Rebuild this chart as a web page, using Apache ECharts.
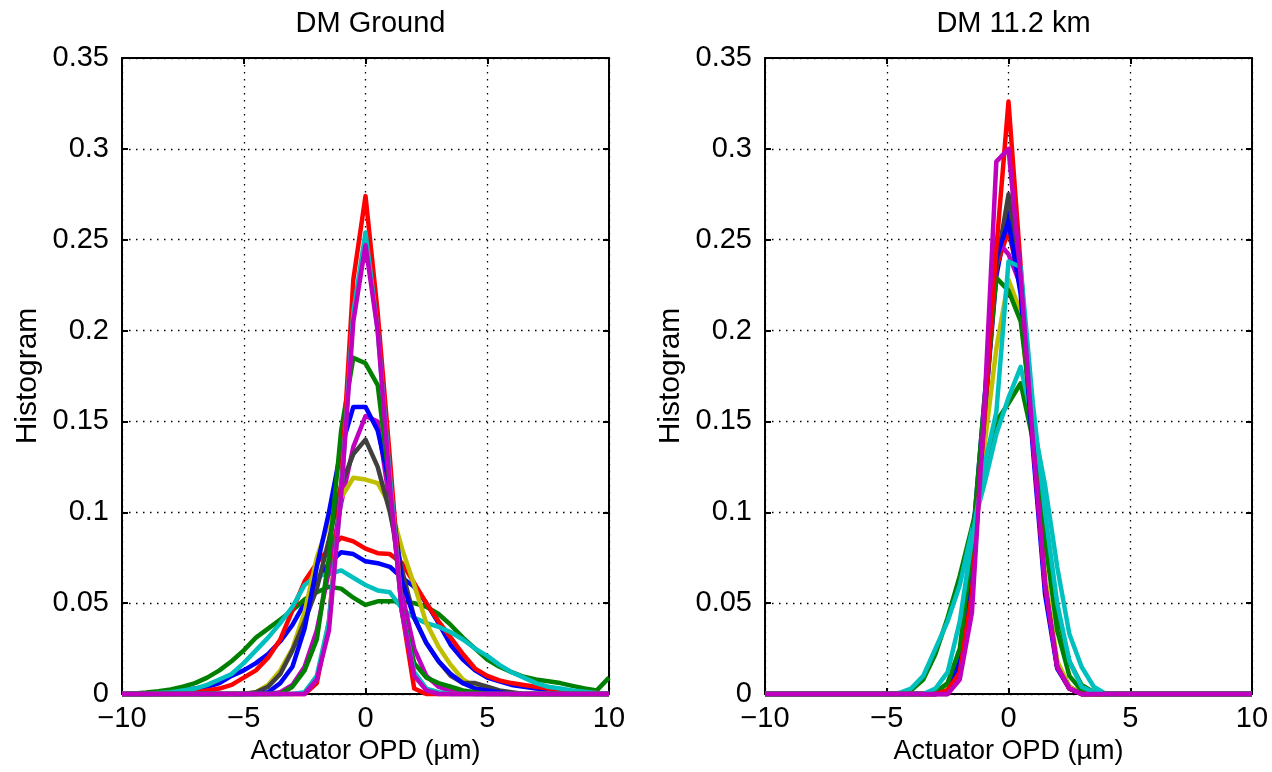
<!DOCTYPE html>
<html>
<head>
<meta charset="utf-8">
<script src="https://cdn.jsdelivr.net/npm/echarts@6/dist/echarts.min.js"></script>
<style>
html,body{margin:0;padding:0;background:#fff;}
#chart{width:1272px;height:772px;}
</style>
</head>
<body>
<div id="chart"></div>
<script>
// Bin centres (µm)
const xBins = [-10,-9.5,-9,-8.5,-8,-7.5,-7,-6.5,-6,-5.5,-5,-4.5,-4,-3.5,-3,-2.5,-2,-1.5,-1,-0.5,0,0.5,1,1.5,2,2.5,3,3.5,4,4.5,5,5.5,6,6.5,7,7.5,8,8.5,9,9.5,10];

const panelTitles = ['DM Ground', 'DM 11.2 km'];
const xTicks = [-10, -5, 0, 5, 10];
const yTicks = [0, 0.05, 0.1, 0.15, 0.2, 0.25, 0.3, 0.35];
const xLabel = 'Actuator OPD (µm)';
const yLabel = 'Histogram';

// MATLAB default colour order
const lineColors = ['#0000FF','#008000','#FF0000','#00BFBF','#BF00BF','#BFBF00','#404040','#0000FF','#008000','#FF0000','#00BFBF','#BF00BF'];

// ---- DM Ground ----
const g1 = [0,0,0,0.0003,0.001,0.002,0.003,0.004,0.006,0.010,0.013,0.017,0.022,0.029,0.038,0.050,0.062,0.072,0.078,0.077,0.073,0.072,0.070,0.064,0.059,0.050,0.039,0.027,0.019,0.013,0.009,0.007,0.005,0.004,0.003,0.0025,0.002,0.0015,0.001,0.0005,0];
const g2 = [0,0.0003,0.0008,0.0015,0.0025,0.004,0.006,0.009,0.013,0.018,0.024,0.031,0.036,0.041,0.046,0.052,0.056,0.059,0.058,0.053,0.049,0.051,0.051,0.051,0.050,0.048,0.044,0.038,0.031,0.025,0.019,0.015,0.012,0.0095,0.008,0.007,0.006,0.0045,0.003,0.002,0.009];
const g3 = [0,0,0,0,0,0.0005,0.001,0.002,0.003,0.005,0.009,0.013,0.020,0.030,0.046,0.062,0.072,0.080,0.086,0.084,0.080,0.0775,0.077,0.072,0.061,0.050,0.040,0.031,0.022,0.014,0.010,0.0075,0.006,0.005,0.004,0.003,0.002,0.0015,0.001,0.0005,0];
const g4 = [0,0,0,0.0005,0.001,0.002,0.003,0.005,0.008,0.011,0.017,0.024,0.031,0.039,0.048,0.060,0.065,0.066,0.068,0.064,0.060,0.057,0.056,0.047,0.042,0.039,0.037,0.034,0.030,0.025,0.021,0.016,0.012,0.009,0.006,0.004,0.003,0.002,0.0013,0.0005,0];
const g5 = [0,0,0,0,0,0,0,0,0,0,0,0,0,0.001,0.005,0.015,0.035,0.068,0.105,0.136,0.153,0.150,0.105,0.055,0.025,0.010,0.004,0.0015,0.0005,0,0,0,0,0,0,0,0,0,0,0,0];
const g6 = [0,0,0,0,0,0,0,0,0,0,0,0.001,0.005,0.013,0.025,0.045,0.075,0.095,0.108,0.119,0.118,0.116,0.104,0.080,0.060,0.039,0.026,0.016,0.008,0.004,0.002,0.001,0,0,0,0,0,0,0,0,0];
const g7 = [0,0,0,0,0,0,0,0,0,0,0,0.001,0.004,0.011,0.024,0.040,0.058,0.085,0.115,0.132,0.140,0.125,0.100,0.068,0.042,0.028,0.018,0.010,0.006,0.006,0.004,0.002,0.001,0,0,0,0,0,0,0,0];
const g8 = [0,0,0,0,0,0,0,0,0,0,0,0,0.001,0.006,0.015,0.036,0.070,0.100,0.135,0.158,0.158,0.145,0.115,0.062,0.042,0.028,0.018,0.011,0.006,0.003,0.002,0.001,0,0,0,0,0,0,0,0,0];
const g9 = [0,0,0,0,0,0,0,0,0,0,0,0,0,0,0.004,0.013,0.030,0.075,0.145,0.185,0.182,0.170,0.115,0.045,0.017,0.009,0.006,0.004,0.002,0.001,0,0,0,0,0,0,0,0,0,0,0];
const g10 = [0,0,0,0,0,0,0,0,0,0,0,0,0,0,0,0,0.006,0.040,0.115,0.228,0.274,0.210,0.130,0.045,0.003,0,0,0,0,0,0,0,0,0,0,0,0,0,0,0,0];
const g11 = [0,0,0,0,0,0,0,0,0,0,0,0,0,0,0,0.001,0.010,0.040,0.110,0.210,0.254,0.200,0.120,0.045,0.012,0.003,0.001,0,0,0,0,0,0,0,0,0,0,0,0,0,0];
const g12 = [0,0,0,0,0,0,0,0,0,0,0,0,0,0,0,0,0.008,0.035,0.110,0.205,0.247,0.200,0.115,0.045,0.010,0.002,0,0,0,0,0,0,0,0,0,0,0,0,0,0,0];

// ---- DM 11.2 km ----
const h1 = [0,0,0,0,0,0,0,0,0,0,0,0,0,0,0,0.003,0.018,0.075,0.150,0.230,0.265,0.225,0.140,0.060,0.017,0.004,0,0,0,0,0,0,0,0,0,0,0,0,0,0,0];
const h2 = [0,0,0,0,0,0,0,0,0,0,0,0,0.002,0.008,0.022,0.042,0.065,0.092,0.120,0.150,0.160,0.171,0.140,0.090,0.045,0.018,0.005,0.001,0,0,0,0,0,0,0,0,0,0,0,0,0];
const h3 = [0,0,0,0,0,0,0,0,0,0,0,0,0,0,0,0,0.015,0.065,0.150,0.235,0.255,0.225,0.140,0.060,0.015,0.003,0,0,0,0,0,0,0,0,0,0,0,0,0,0,0];
const h4 = [0,0,0,0,0,0,0,0,0,0,0,0.0005,0.003,0.010,0.025,0.040,0.060,0.090,0.115,0.143,0.163,0.180,0.150,0.115,0.070,0.033,0.015,0.004,0,0,0,0,0,0,0,0,0,0,0,0,0];
const h5 = [0,0,0,0,0,0,0,0,0,0,0,0,0,0,0,0.002,0.012,0.060,0.150,0.250,0.242,0.225,0.140,0.060,0.015,0.003,0,0,0,0,0,0,0,0,0,0,0,0,0,0,0];
const h6 = [0,0,0,0,0,0,0,0,0,0,0,0,0,0,0,0.003,0.016,0.070,0.135,0.190,0.228,0.210,0.140,0.065,0.018,0.004,0,0,0,0,0,0,0,0,0,0,0,0,0,0,0];
const h7 = [0,0,0,0,0,0,0,0,0,0,0,0,0,0,0,0.002,0.014,0.065,0.150,0.235,0.275,0.225,0.140,0.060,0.015,0.003,0,0,0,0,0,0,0,0,0,0,0,0,0,0,0];
const h8 = [0,0,0,0,0,0,0,0,0,0,0,0,0,0,0,0,0.018,0.080,0.160,0.240,0.260,0.220,0.135,0.055,0.014,0.003,0,0,0,0,0,0,0,0,0,0,0,0,0,0,0];
const h9 = [0,0,0,0,0,0,0,0,0,0,0,0,0,0,0.001,0.006,0.025,0.080,0.160,0.229,0.222,0.205,0.150,0.085,0.035,0.010,0.002,0,0,0,0,0,0,0,0,0,0,0,0,0,0];
const h10 = [0,0,0,0,0,0,0,0,0,0,0,0,0,0,0,0.002,0.012,0.055,0.150,0.245,0.326,0.235,0.140,0.060,0.015,0.003,0,0,0,0,0,0,0,0,0,0,0,0,0,0,0];
const h11 = [0,0,0,0,0,0,0,0,0,0,0,0,0,0,0.003,0.012,0.040,0.085,0.125,0.155,0.238,0.235,0.160,0.100,0.050,0.018,0.004,0.001,0,0,0,0,0,0,0,0,0,0,0,0,0];
const h12 = [0,0,0,0,0,0,0,0,0,0,0,0,0,0,0,0,0.008,0.045,0.155,0.293,0.300,0.230,0.140,0.060,0.015,0.003,0,0,0,0,0,0,0,0,0,0,0,0,0,0,0];

const groundSeries = [g1,g2,g3,g4,g5,g6,g7,g8,g9,g10,g11,g12];
const highSeries = [h1,h2,h3,h4,h5,h6,h7,h8,h9,h10,h11,h12];

const FONT = '"Liberation Sans", Arial, Helvetica, sans-serif';
const FS = 29;
const gridLefts = [122, 765];
const gridW = 487, gridTop = 58, gridH = 636;

function minusFmt(v){ return String(v).replace('-', '\u2212'); }

const grids = [], xAxes = [], yAxes = [], series = [], titles = [];
for (let p = 0; p < 2; p++) {
  grids.push({left: gridLefts[p], top: gridTop, width: gridW, height: gridH, show: false});
  titles.push({text: panelTitles[p], left: gridLefts[p] + gridW/2, top: 4, textAlign: 'center',
    textStyle: {fontFamily: FONT, fontSize: FS, fontWeight: 'normal', color: '#000'}});
  const axLine = {show: true, onZero: false, lineStyle: {color: '#000', width: 2}};
  const tick = {show: true, inside: true, length: 6, lineStyle: {color: '#000', width: 2}};
  const split = {show: true, lineStyle: {color: '#000', width: 1.3, type: [1.5, 5.5]}};
  xAxes.push({type: 'value', gridIndex: p, position: 'bottom', min: xTicks[0], max: xTicks[xTicks.length-1], interval: 5,
    axisLine: axLine, axisTick: tick, splitLine: split,
    axisLabel: {fontFamily: FONT, fontSize: FS, color: '#000', margin: 10, formatter: minusFmt},
    name: xLabel, nameLocation: 'middle', nameGap: 43,
    nameTextStyle: {fontFamily: FONT, fontSize: 27, color: '#000'}});
  xAxes.push({type: 'value', gridIndex: p, position: 'top', min: xTicks[0], max: xTicks[xTicks.length-1], interval: 5,
    axisLine: axLine, axisTick: tick, splitLine: {show: false}, axisLabel: {show: false}});
  yAxes.push({type: 'value', gridIndex: p, position: 'left', min: yTicks[0], max: yTicks[yTicks.length-1], interval: 0.05,
    axisLine: axLine, axisTick: tick, splitLine: split,
    axisLabel: {fontFamily: FONT, fontSize: FS, color: '#000', margin: 13,
      formatter: function(v){ const t = yTicks.find(function(k){return Math.abs(k - v) < 1e-9;}); return t === undefined ? '' : String(t); }},
    name: yLabel, nameLocation: 'middle', nameGap: 79,
    nameTextStyle: {fontFamily: FONT, fontSize: 30, color: '#000'}});
  yAxes.push({type: 'value', gridIndex: p, position: 'right', min: yTicks[0], max: yTicks[yTicks.length-1], interval: 0.05,
    axisLine: axLine, axisTick: tick, splitLine: {show: false}, axisLabel: {show: false}});
  const sets = p === 0 ? groundSeries : highSeries;
  sets.forEach(function(vals, i){
    series.push({type: 'line', xAxisIndex: p*2, yAxisIndex: p*2, showSymbol: false, symbol: 'none',
      data: xBins.map(function(x, k){ return [x, vals[k]]; }),
      lineStyle: {color: lineColors[i], width: 4.5, join: 'round'}, itemStyle: {color: lineColors[i]},
      z: 3 + i, animation: false, silent: true, clip: false});
  });
}

const chart = echarts.init(document.getElementById('chart'), null, {renderer: 'canvas'});
chart.setOption({
  backgroundColor: '#fff',
  animation: false,
  title: titles,
  grid: grids,
  xAxis: xAxes,
  yAxis: yAxes,
  series: series
});
</script>
</body>
</html>
